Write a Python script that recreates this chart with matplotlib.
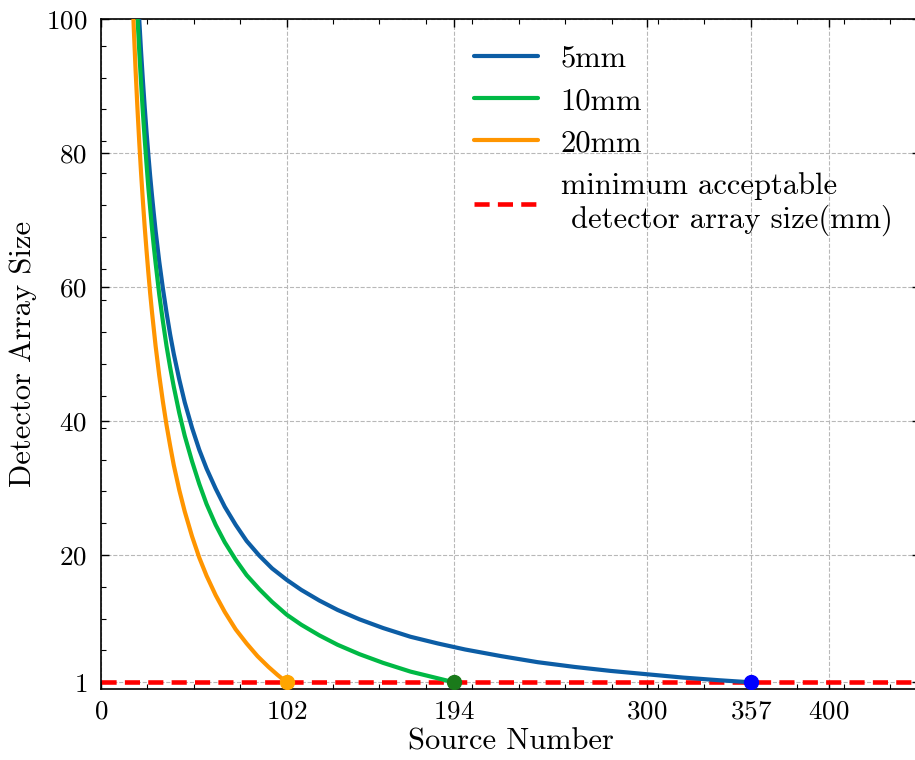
import matplotlib
matplotlib.use("Agg")
import matplotlib.pyplot as plt
from matplotlib.ticker import AutoMinorLocator

plt.rcParams['font.family'] = 'serif'
plt.rcParams['font.serif'] = ['cmr10', 'DejaVu Serif']
plt.rcParams['axes.formatter.use_mathtext'] = True
plt.rcParams['mathtext.fontset'] = 'cm'

# ---- data ----
x_5mm = [19, 20, 21, 22, 23, 24, 25, 26, 27, 28, 29, 30, 32, 34, 36, 38, 40, 43, 46,
         50, 54, 58, 63, 68, 74, 80, 87, 94, 102, 110, 120, 130, 142, 155, 170, 185,
         200, 220, 240, 260, 280, 300, 320, 340, 357]
y_5mm = [111.1, 105.3, 100.0, 95.2, 90.9, 86.9, 83.2, 79.8, 76.6, 73.7, 71.0, 68.4,
         63.8, 59.8, 56.2, 52.9, 50.0, 46.2, 42.8, 39.0, 35.7, 32.9, 29.9, 27.2,
         24.5, 22.1, 19.9, 18.0, 16.3, 14.8, 13.2, 11.8, 10.4, 9.1, 7.8, 6.8, 5.9,
         4.9, 4.0, 3.3, 2.7, 2.2, 1.7, 1.3, 1.0]

x_10mm = [18, 19, 20, 21, 22, 23, 24, 25, 26, 27, 28, 29, 30, 32, 34, 36, 38, 40, 43,
          46, 50, 54, 58, 63, 68, 74, 80, 87, 94, 102, 110, 120, 130, 142, 155, 170,
          182, 194]
y_10mm = [112.9, 106.4, 100.6, 95.3, 90.5, 86.1, 82.1, 78.4, 74.9, 71.8, 68.8, 66.1,
          63.6, 58.9, 54.9, 51.2, 48.0, 45.1, 41.2, 37.8, 34.0, 30.6, 27.6, 24.5,
          21.9, 19.3, 17.0, 14.9, 13.0, 11.1, 9.6, 8.0, 6.6, 5.2, 3.9, 2.6, 1.8, 1.0]

x_20mm = [16, 17, 18, 19, 20, 21, 22, 23, 24, 25, 26, 27, 28, 30, 32, 34, 36, 38, 40,
          43, 46, 50, 54, 58, 63, 68, 74, 80, 86, 92, 97, 102]
y_20mm = [113.5, 105.7, 98.7, 92.4, 86.8, 81.7, 77.1, 72.9, 69.0, 65.5, 62.2, 59.1,
          56.3, 51.2, 46.8, 42.9, 39.4, 36.3, 33.4, 29.7, 26.5, 22.8, 19.6, 16.9,
          14.0, 11.5, 8.9, 6.8, 4.9, 3.3, 2.1, 1.0]

end_points_x = [357, 194, 102]
end_points_y = [1, 1, 1]
min_size = 1

series_labels = ['5mm', '10mm', '20mm']
line_colors = ['#0C5DA5', '#00B945', '#FF9500']
marker_colors = ['#0000ff', '#1a7a1a', '#FFA500']
min_label = 'minimum acceptable\n detector array size(mm)'

xticks = [0, 102, 194, 300, 357, 400]
yticks = [1, 20, 40, 60, 80, 100]

# ---- figure ----
fig = plt.figure(figsize=(9.15, 7.6), dpi=100)
ax = fig.add_axes([101 / 915, 1 - 689 / 760, 819 / 915, 670 / 760])

xs = [x_5mm, x_10mm, x_20mm]
ys = [y_5mm, y_10mm, y_20mm]
for x, y, c, lab in zip(xs, ys, line_colors, series_labels):
    ax.plot(x, y, color=c, lw=3, label=lab, zorder=3, solid_capstyle='round',
            solid_joinstyle='round')

ax.axhline(min_size, color='red', ls=(0, (3.3, 1.8)), lw=3.3, label=min_label, zorder=2)

for xe, ye, mc in zip(end_points_x, end_points_y, marker_colors):
    ax.plot([xe], [ye], 'o', color=mc, ms=10, zorder=4)

ax.set_xlim(0, 450)
ax.set_ylim(0, 100)
ax.set_xticks(xticks)
ax.set_yticks(yticks)
ax.xaxis.set_minor_locator(AutoMinorLocator())
ax.yaxis.set_minor_locator(AutoMinorLocator())

ax.tick_params(which='both', direction='in', top=True, right=True, labelsize=19.5)
ax.tick_params(which='major', length=6, width=1)
ax.tick_params(which='minor', length=3.5, width=0.8)
ax.tick_params(axis='x', pad=8)
ax.tick_params(axis='y', pad=10)
for s in ax.spines.values():
    s.set_linewidth(1.2)

ax.grid(True, which='major', ls='--', color='#b8b8b8', lw=0.8)

ax.set_xlabel('Source Number', fontsize=22, labelpad=3)
ax.set_ylabel('Detector Array Size', fontsize=22, labelpad=6)

leg = ax.legend(loc='upper left', bbox_to_anchor=(446 / 915, 1 - 18 / 760),
                bbox_transform=fig.transFigure, frameon=False, fontsize=22,
                handlelength=2.1, handletextpad=0.75, labelspacing=0.48)

fig.savefig('out.png', dpi=100)
